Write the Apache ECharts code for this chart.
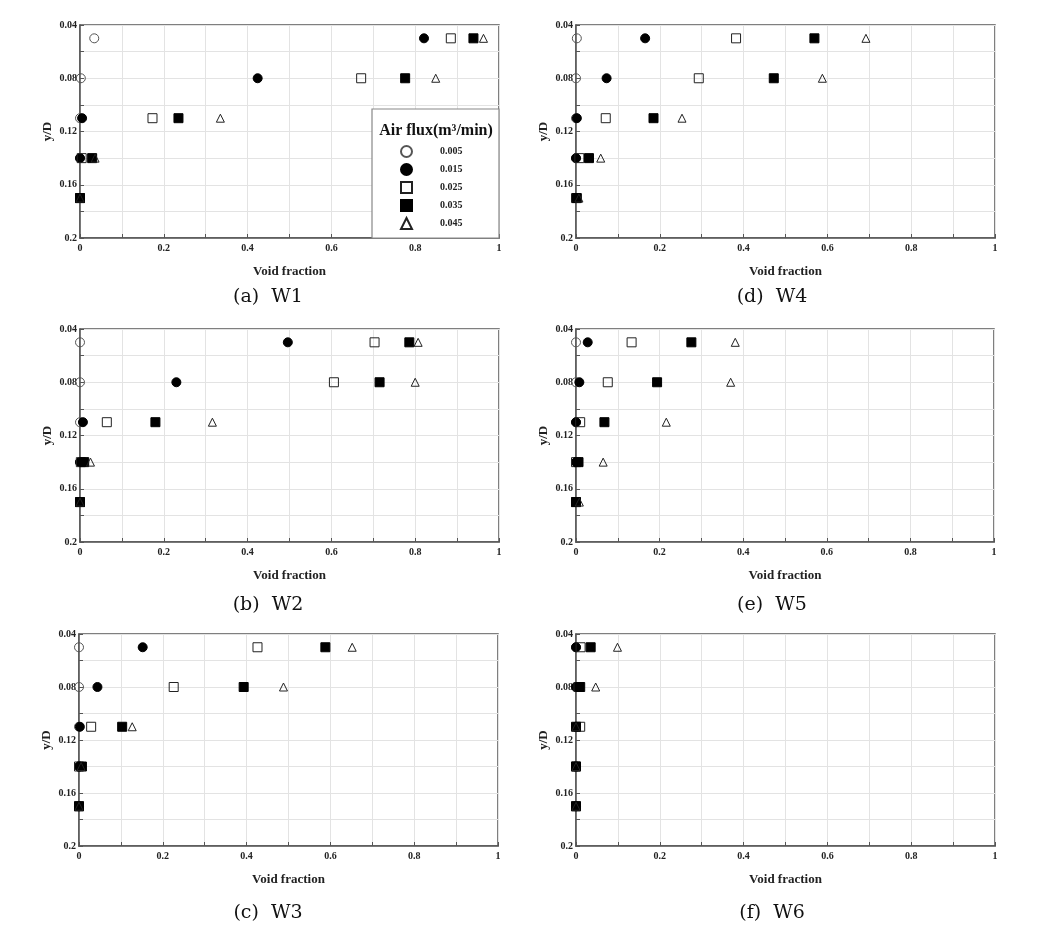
<!DOCTYPE html>
<html>
<head>
<meta charset="utf-8">
<script src="https://cdn.jsdelivr.net/npm/echarts@6/dist/echarts.min.js"></script>
<style>
html,body{margin:0;padding:0;background:#fff;}
#c{width:1044px;height:933px;}
</style>
</head>
<body>
<div id="c"></div>
<script>
// y/D levels of the measuring rows
const yLevels = [0.05, 0.08, 0.11, 0.14, 0.17];
// air flux series (m3/min)
const fluxNames = ['0.005', '0.015', '0.025', '0.035', '0.045'];
// x tick labels / y tick labels
const xTickLabels = ['0', '0.2', '0.4', '0.6', '0.8', '1'];
const yTickLabels = ['0.04', '0.08', '0.12', '0.16', '0.2'];
const panelCaptions = ['(a)  W1', '(b)  W2', '(c)  W3', '(d)  W4', '(e)  W5', '(f)  W6'];

// Void fraction per panel: one row per air flux, values at yLevels
const w1 = [
  [0.034, 0.002, 0.000, 0.000, 0.000],
  [0.821, 0.424, 0.005, 0.000, 0.000],
  [0.885, 0.671, 0.173, 0.004, 0.000],
  [0.939, 0.776, 0.235, 0.029, 0.000],
  [0.963, 0.849, 0.335, 0.036, 0.000]
];
const w2 = [
  [0.000, 0.000, 0.000, 0.000, 0.000],
  [0.496, 0.230, 0.007, 0.000, 0.000],
  [0.703, 0.606, 0.064, 0.002, 0.000],
  [0.786, 0.715, 0.180, 0.010, 0.000],
  [0.807, 0.800, 0.316, 0.025, 0.000]
];
const w3 = [
  [0.000, 0.000, 0.000, 0.000, 0.000],
  [0.152, 0.044, 0.002, 0.000, 0.000],
  [0.426, 0.226, 0.029, 0.000, 0.000],
  [0.588, 0.393, 0.103, 0.007, 0.000],
  [0.652, 0.488, 0.127, 0.005, 0.000]
];
const w4 = [
  [0.002, 0.000, 0.000, 0.000, 0.000],
  [0.165, 0.073, 0.002, 0.000, 0.000],
  [0.382, 0.293, 0.071, 0.008, 0.000],
  [0.569, 0.472, 0.185, 0.031, 0.002],
  [0.692, 0.588, 0.253, 0.059, 0.007]
];
const w5 = [
  [0.000, 0.000, 0.000, 0.000, 0.000],
  [0.028, 0.008, 0.000, 0.000, 0.000],
  [0.133, 0.076, 0.010, 0.000, 0.000],
  [0.276, 0.194, 0.068, 0.006, 0.000],
  [0.381, 0.370, 0.216, 0.065, 0.008]
];
const w6 = [
  [0.000, 0.000, 0.000, 0.000, 0.000],
  [0.000, 0.000, 0.000, 0.000, 0.000],
  [0.011, 0.006, 0.010, 0.000, 0.000],
  [0.035, 0.010, 0.000, 0.000, 0.000],
  [0.099, 0.047, 0.000, 0.000, 0.000]
];
const panels = [w1, w2, w3, w4, w5, w6];

// layout
const grids = [
  {left: 80, top: 25, width: 419, height: 213},
  {left: 80, top: 329, width: 419, height: 213},
  {left: 79, top: 634, width: 419, height: 212},
  {left: 576, top: 25, width: 419, height: 213},
  {left: 576, top: 329, width: 418, height: 213},
  {left: 576, top: 634, width: 419, height: 212}
];
const captionPos = [[268, 297], [268, 605], [268, 913], [772, 297], [772, 605], [772, 913]];

const SERIF = '"Liberation Serif", "DejaVu Serif", serif';
const symbols = ['circle', 'circle', 'rect', 'rect', 'triangle'];
const sizes = [9, 9, 9, 9, 8];
const fills = ['rgba(0,0,0,0)', '#000', 'rgba(0,0,0,0)', '#000', 'rgba(0,0,0,0)'];
const borders = ['#555', '#000', '#222', '#000', '#222'];

const chart = echarts.init(document.getElementById('c'), null, {renderer: 'canvas'});

const xAxes = [], yAxes = [], series = [], graphics = [];
grids.forEach((g, i) => {
  xAxes.push({
    type: 'value', gridIndex: i, min: 0, max: 1, interval: 0.1,
    name: 'Void fraction', nameLocation: 'middle', nameGap: 27,
    nameTextStyle: {fontFamily: SERIF, fontWeight: 'bold', fontSize: 13, color: '#222'},
    axisLine: {show: true, lineStyle: {color: '#555', width: 1.5}},
    axisTick: {show: true, inside: true, length: 4, lineStyle: {color: '#555'}},
    splitLine: {show: true, lineStyle: {color: '#e3e3e3', width: 1}},
    axisLabel: {
      fontFamily: SERIF, fontWeight: 'bold', fontSize: 10, color: '#222', margin: 5,
      showMinLabel: true, showMaxLabel: true,
      formatter: v => {
        const r = Math.round(v * 10);
        return r % 2 === 0 ? xTickLabels[r / 2] : '';
      }
    }
  });
  yAxes.push({
    type: 'value', gridIndex: i, min: 0.04, max: 0.2, interval: 0.02, inverse: true,
    name: 'y/D', nameLocation: 'middle', nameGap: 26,
    nameTextStyle: {fontFamily: SERIF, fontWeight: 'bold', fontSize: 13, color: '#222'},
    axisLine: {show: true, lineStyle: {color: '#555', width: 1.5}},
    axisTick: {show: true, inside: true, length: 4, lineStyle: {color: '#555'}},
    splitLine: {show: true, lineStyle: {color: '#e3e3e3', width: 1}},
    axisLabel: {
      fontFamily: SERIF, fontWeight: 'bold', fontSize: 10, color: '#222', margin: 3,
      showMinLabel: true, showMaxLabel: true,
      formatter: v => {
        const r = Math.round(v * 100);
        return r % 4 === 0 ? yTickLabels[r / 4 - 1] : '';
      }
    }
  });
  panels[i].forEach((vals, s) => {
    series.push({
      type: 'scatter', name: fluxNames[s], xAxisIndex: i, yAxisIndex: i,
      symbol: symbols[s], symbolSize: sizes[s],
      itemStyle: {color: fills[s], borderColor: borders[s], borderWidth: 1, opacity: 1},
      emphasis: {disabled: true},
      data: vals.map((x, k) => [x, yLevels[k]])
    });
  });
  graphics.push({
    type: 'text', x: captionPos[i][0], y: captionPos[i][1],
    style: {text: panelCaptions[i], font: '19px "DejaVu Serif", serif', fill: '#111',
            textAlign: 'center', textVerticalAlign: 'middle'}
  });
});

// legend box in panel (a)
graphics.push({
  type: 'rect', shape: {x: 372, y: 109, width: 127, height: 129},
  style: {fill: '#fff', stroke: '#888', lineWidth: 1.2}, z: 5
});
graphics.push({
  type: 'text', x: 436, y: 131, z: 6,
  style: {text: 'Air flux(m³/min)', font: 'bold 16px ' + SERIF, fill: '#111',
          textAlign: 'center', textVerticalAlign: 'middle'}
});

chart.setOption({
  animation: false,
  backgroundColor: '#fff',
  grid: grids.map(g => Object.assign({show: true, borderColor: '#555', borderWidth: 1.5, backgroundColor: 'transparent'}, g)),
  xAxis: xAxes,
  yAxis: yAxes,
  legend: {
    show: true, orient: 'vertical', left: 395, top: 140, z: 10, padding: 5,
    itemWidth: 11, itemHeight: 11, itemGap: 5, selectedMode: false,
    data: fluxNames,
    textStyle: {fontFamily: SERIF, fontWeight: 'bold', fontSize: 10, lineHeight: 13, color: '#222', padding: [0, 0, 0, 23]}
  },
  graphic: graphics,
  series: series
});
</script>
</body>
</html>
